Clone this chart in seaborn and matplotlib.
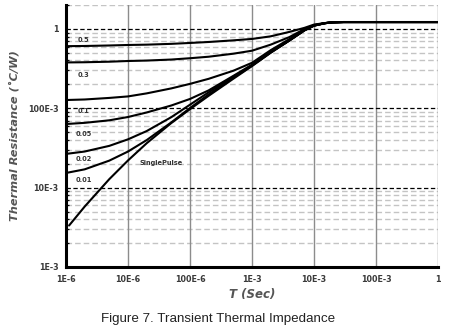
import numpy as np
import pandas as pd
import matplotlib
matplotlib.use("Agg")
import matplotlib.pyplot as plt
import seaborn as sns
from matplotlib.ticker import FixedLocator, FixedFormatter, LogLocator, NullFormatter

# Pulse duration grid (s) shared by the duty-cycle curves
t_common = [1e-6, 2e-6, 5e-6, 1e-5, 2e-5, 5e-5, 1e-4, 2e-4, 5e-4, 1e-3,
            2e-3, 4e-3, 7e-3, 1e-2, 1.5e-2, 2e-2, 3e-2, 1e-1, 1.0]

# Thermal resistance (degC/W) per duty cycle
z_d050 = [0.606, 0.609, 0.618, 0.627, 0.633, 0.648, 0.665, 0.684, 0.717, 0.747,
          0.806, 0.916, 1.03, 1.133, 1.185, 1.21, 1.22, 1.22, 1.22]
z_d030 = [0.378, 0.380, 0.386, 0.394, 0.399, 0.411, 0.427, 0.446, 0.487, 0.531,
          0.633, 0.788, 0.994, 1.117, 1.182, 1.21, 1.22, 1.22, 1.22]
z_d010 = [0.127, 0.129, 0.135, 0.141, 0.154, 0.178, 0.203, 0.235, 0.297, 0.374,
          0.539, 0.743, 0.980, 1.11, 1.18, 1.21, 1.22, 1.22, 1.22]
z_d005 = [0.0633, 0.0655, 0.0705, 0.0776, 0.0885, 0.1084, 0.131, 0.168, 0.256, 0.354,
          0.510, 0.718, 0.962, 1.10, 1.18, 1.21, 1.22, 1.22, 1.22]
z_d002 = [0.0266, 0.0285, 0.0336, 0.0406, 0.0516, 0.0773, 0.1109, 0.159, 0.250, 0.348,
          0.507, 0.716, 0.960, 1.10, 1.18, 1.21, 1.22, 1.22, 1.22]
z_d001 = [0.0153, 0.0170, 0.0219, 0.0285, 0.0397, 0.0664, 0.1007, 0.1496, 0.243, 0.344,
          0.504, 0.714, 0.958, 1.10, 1.18, 1.21, 1.22, 1.22, 1.22]

# Single pulse curve has its own time base
t_single = [1.12e-6, 2e-6, 5e-6, 1e-5, 2e-5, 5e-5, 1e-4, 2e-4, 5e-4, 1e-3,
            2e-3, 4e-3, 7e-3, 1e-2, 1.5e-2, 2e-2, 3e-2, 1e-1, 1.0]
z_single = [0.00333, 0.00577, 0.01281, 0.0220, 0.03624, 0.0652, 0.0974, 0.1436, 0.2355, 0.340,
            0.500, 0.712, 0.956, 1.10, 1.18, 1.21, 1.22, 1.22, 1.22]

series_names = ["0.5", "0.3", "0.1", "0.05", "0.02", "0.01", "SinglePulse"]

# Curve labels: text, left x (s), centre y (degC/W)
label_text = ["0.5", "0.3", "0.1", "0.05", "0.02", "0.01", "SinglePulse"]
label_x = [1.52e-6, 1.52e-6, 1.52e-6, 1.43e-6, 1.43e-6, 1.43e-6, 1.56e-5]
label_y = [0.717, 0.262, 0.0925, 0.047, 0.0228, 0.0126, 0.0203]

x_ticks = [1e-6, 1e-5, 1e-4, 1e-3, 1e-2, 1e-1, 1.0]
x_ticklabels = ["1E-6", "10E-6", "100E-6", "1E-3", "10E-3", "100E-3", "1"]
y_ticks = [1e-3, 1e-2, 1e-1, 1.0]
y_ticklabels = ["1E-3", "10E-3", "100E-3", "1"]

frames = []
for name, z in zip(series_names[:-1], [z_d050, z_d030, z_d010, z_d005, z_d002, z_d001]):
    frames.append(pd.DataFrame({"t": t_common, "z": z, "curve": name}))
frames.append(pd.DataFrame({"t": t_single, "z": z_single, "curve": "SinglePulse"}))
df = pd.concat(frames, ignore_index=True)

sns.set_theme(style="white")
plt.rcParams["font.family"] = ["DejaVu Sans"]

fig = plt.figure(figsize=(4.52, 3.30), dpi=100)
ax = fig.add_axes([66 / 452, 1 - 267 / 330, (438 - 66) / 452, (267 - 5) / 330])

sns.lineplot(data=df, x="t", y="z", units="curve", estimator=None, sort=False,
             color="black", linewidth=1.5, ax=ax, zorder=5)

ax.set_xscale("log")
ax.set_yscale("log")
ax.set_xlim(1e-6, 1.0)
ax.set_ylim(1e-3, 2.0)

# grid: gray verticals, black dashed decades, light gray dashed minors
ax.xaxis.set_major_locator(FixedLocator(x_ticks))
ax.xaxis.set_major_formatter(FixedFormatter(x_ticklabels))
ax.xaxis.set_minor_locator(FixedLocator([]))
ax.yaxis.set_major_locator(FixedLocator(y_ticks))
ax.yaxis.set_major_formatter(FixedFormatter(y_ticklabels))
ax.yaxis.set_minor_locator(LogLocator(base=10, subs=np.arange(2, 10), numticks=20))
ax.yaxis.set_minor_formatter(NullFormatter())

ax.grid(False)
for xv in x_ticks[1:]:
    ax.axvline(xv, color="#8c8c8c", linewidth=1.0, zorder=1)
ax.grid(True, which="minor", axis="y", color="#c4c4c4", linewidth=1.0,
        linestyle=(0, (4, 2.2)), zorder=0)
for yv in y_ticks[1:]:
    ax.axhline(yv, color="black", linewidth=0.9, linestyle=(0, (3.5, 2)), zorder=2)
ax.set_axisbelow(True)

for side in ["top", "right"]:
    ax.spines[side].set_visible(False)
for side in ["left", "bottom"]:
    ax.spines[side].set_color("black")
    ax.spines[side].set_linewidth(2.2)
    ax.spines[side].set_zorder(6)

ax.tick_params(axis="both", which="major", direction="out", length=3, width=1.6,
               color="black", labelsize=5.8, labelcolor="#3a3a3a", pad=2.5)
ax.tick_params(axis="y", which="minor", direction="in", length=2.5, width=0.9,
               color="black", left=True)
for lab in ax.get_xticklabels() + ax.get_yticklabels():
    lab.set_fontweight("bold")

ax.set_xlabel("T (Sec)", fontsize=8.5, fontweight="bold", fontstyle="italic",
              color="#555555", labelpad=3)
ax.set_ylabel("Thermal Resistance (˚C/W)", fontsize=8.2, fontweight="bold",
              fontstyle="italic", color="#555555", labelpad=6)

for txt, lx, ly in zip(label_text, label_x, label_y):
    ax.text(lx, ly, txt, fontsize=4.8, fontweight="bold", color="#333333",
            ha="left", va="center", zorder=7)

fig.text(218.5 / 452, 1 - 319 / 330, "Figure 7. Transient Thermal Impedance",
         ha="center", va="center", fontsize=9.6, color="#222222",
         family=["Liberation Sans", "DejaVu Sans"])

fig.savefig("out.png", dpi=100)
